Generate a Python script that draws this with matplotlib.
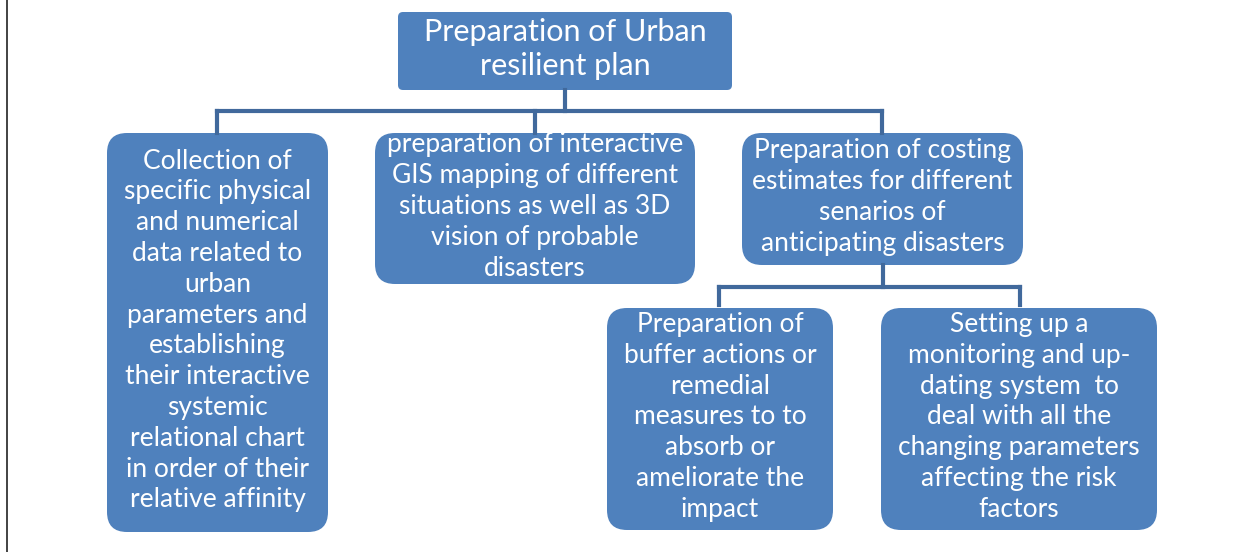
import matplotlib.pyplot as plt
from matplotlib.patches import FancyBboxPatch

# Box texts
labels = [
    "Preparation of Urban\nresilient plan",
    "Collection of\nspecific physical\nand numerical\ndata related to\nurban\nparameters and\n"
    "establishing\ntheir interactive\nsystemic\nrelational chart\nin order of their\nrelative affinity",
    "preparation of interactive\nGIS mapping of different\nsituations as well as 3D\nvision of probable\ndisasters",
    "Preparation of costing\nestimates for different\nsenarios of\nanticipating disasters",
    "Preparation of\nbuffer actions or\nremedial\nmeasures to to\nabsorb or\nameliorate the\nimpact",
    "Setting up a\nmonitoring and up-\ndating system  to\ndeal with all the\nchanging parameters\naffecting the risk\nfactors",
]
# Box layout in pixels: left, top, right, bottom
boxes = [
    (398, 12, 732, 90),
    (107, 133, 328, 532),
    (375, 133, 695, 284),
    (742, 133, 1023, 265),
    (607, 308, 833, 530),
    (881, 308, 1157, 530),
]
radius = [5, 20, 20, 20, 20, 20]
font_sizes = [22, 19, 19, 19, 19, 19]
spacings = [1.23, 1.29, 1.29, 1.29, 1.29, 1.29]

box_color = '#4f81bd'
line_color = '#41699c'

fig = plt.figure(figsize=(12.52, 5.52), dpi=100)
ax = fig.add_axes([0, 0, 1, 1])
ax.set_xlim(0, 1252)
ax.set_ylim(552, 0)
ax.axis('off')

# left frame line
ax.plot([7, 7], [0, 552], color='#222222', linewidth=1.2)

# connectors: top box -> level 1
ax.plot([565, 565], [90, 111], color=line_color, linewidth=3)
ax.plot([217, 882], [111, 111], color=line_color, linewidth=3)
for x in [217, 535, 882]:
    ax.plot([x, x], [111, 133], color=line_color, linewidth=3)

# connectors: costing box -> level 2
ax.plot([883, 883], [265, 287], color=line_color, linewidth=3)
ax.plot([719, 1020], [287, 287], color=line_color, linewidth=3)
for x in [719, 1020]:
    ax.plot([x, x], [287, 305], color=line_color, linewidth=3)

for (l, t, r, b), rad, txt, fs, ls in zip(boxes, radius, labels, font_sizes, spacings):
    patch = FancyBboxPatch((l, t), r - l, b - t,
                           boxstyle=f"round,pad=0,rounding_size={rad}",
                           facecolor=box_color, edgecolor='none')
    ax.add_patch(patch)
    ax.text((l + r) / 2, (t + b) / 2 - 2, txt, ha='center', va='center',
            color='white', fontsize=fs, family='Lato', linespacing=ls)

plt.savefig('out.png', dpi=100)
plt.close()
